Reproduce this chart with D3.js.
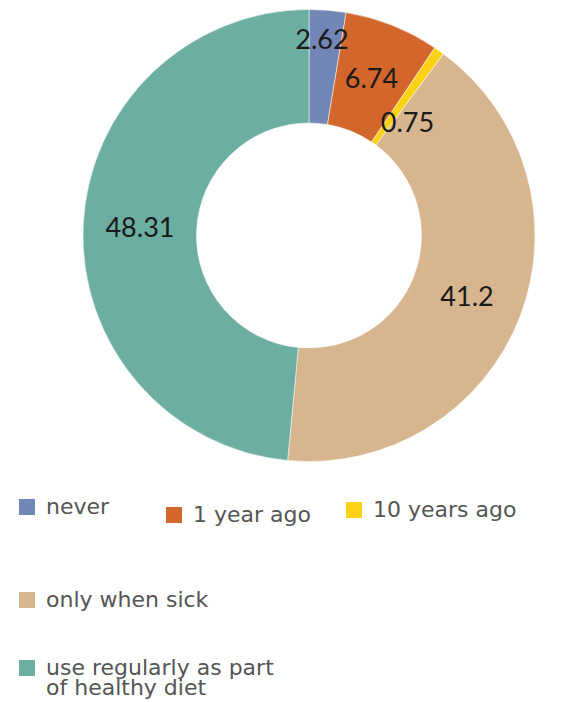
<!DOCTYPE html>
<html>
<head>
<meta charset="utf-8">
<script src="https://cdn.jsdelivr.net/npm/d3@7"></script>
<style>
  body { margin: 0; background: #fff; }
  svg { display: block; }
</style>
</head>
<body>
<div class="chart"></div>
<script>
var categories = ["never", "1 year ago", "10 years ago", "only when sick", "use regularly as part of healthy diet"];
var values = [2.62, 6.74, 0.75, 41.2, 48.31];
var colors = ["#7387b7", "#d3662b", "#fcd116", "#d7b58e", "#6caea1"];

var width = 564, height = 702;
var cx = 309, cy = 235.5;
var outerR = 226, innerR = 112.5;

var svg = d3.select(".chart").append("svg")
    .attr("width", width)
    .attr("height", height);

var pie = d3.pie().sort(null).value(function(d) { return d; });
var arc = d3.arc().innerRadius(innerR).outerRadius(outerR);

var arcs = pie(values);

var g = svg.append("g").attr("transform", "translate(" + cx + "," + cy + ")");

g.selectAll("path")
    .data(arcs)
    .enter().append("path")
    .attr("d", arc)
    .attr("fill", function(d, i) { return colors[i]; })
    .attr("stroke", "#fff")
    .attr("stroke-width", 0.5);

// labels were hand-moved in the original for the two thin slices
var nudge = { "never": [-1, -27], "10 years ago": [1, 25] };

g.selectAll("text.lbl")
    .data(arcs)
    .enter().append("text")
    .attr("class", "lbl")
    .attr("transform", function(d, i) {
      var c = arc.centroid(d), n = nudge[categories[i]] || [0, 0];
      return "translate(" + (c[0] + n[0]) + "," + (c[1] + n[1]) + ")";
    })
    .attr("text-anchor", "middle")
    .attr("dy", "0.35em")
    .style("font-family", "Lato, 'Open Sans', sans-serif")
    .style("font-size", "27px")
    .style("fill", "#1a1a1a")
    .text(function(d) { return d.data; });

// legend layout
var legendPos = [[19, 499], [166, 507], [346, 502], [19, 592], [19, 660]];
var legendLines = [["never"], ["1 year ago"], ["10 years ago"], ["only when sick"], ["use regularly as part", "of healthy diet"]];

var legend = svg.append("g").attr("class", "legend")
  .selectAll("g")
  .data(categories)
  .enter().append("g")
  .attr("transform", function(d, i) { return "translate(" + legendPos[i][0] + "," + legendPos[i][1] + ")"; });

legend.append("rect")
    .attr("width", 16)
    .attr("height", 16)
    .attr("fill", function(d, i) { return colors[i]; });

legend.append("text")
    .attr("x", 27)
    .attr("y", 15)
    .style("font-family", "'DejaVu Sans', sans-serif")
    .style("font-size", "22px")
    .style("fill", "#555")
  .selectAll("tspan")
    .data(function(d, i) { return legendLines[i]; })
    .enter().append("tspan")
    .attr("x", 27)
    .attr("dy", function(d, j) { return j === 0 ? 0 : 20; })
    .text(function(d) { return d; });
</script>
</body>
</html>
